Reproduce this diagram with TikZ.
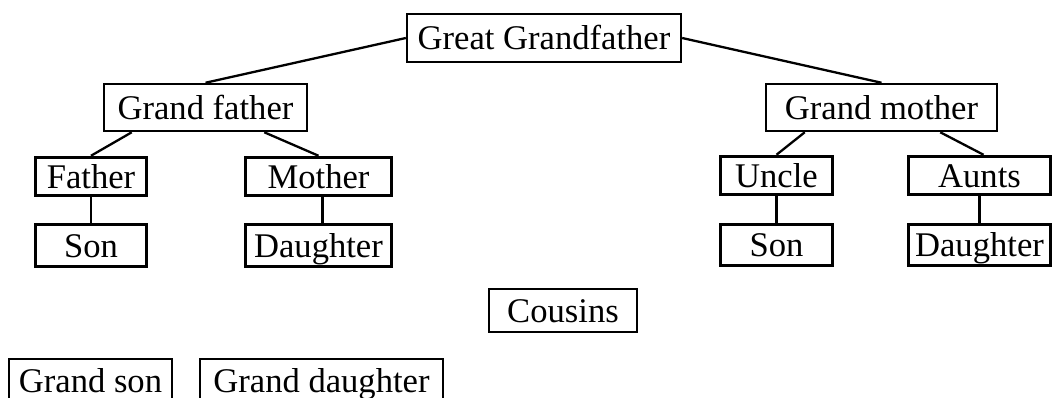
\documentclass[tikz,border=0pt]{standalone}
\usepackage{fontspec}
\setmainfont{Liberation Serif}
\begin{document}
\begin{tikzpicture}[x=1pt,y=-1pt,
  box/.style={draw, line width=#1, inner sep=0pt, text height=23pt, text depth=0pt,
    font=\fontsize{34.6}{40}\selectfont},
  link/.style={line width=2.3pt}]
\useasboundingbox (0,0) rectangle (1053,397);
% level 0
\node[box=2.3pt, minimum width=274pt, minimum height=48pt] (gg) at (544,38) {Great Grandfather};
% level 1
\node[box=2.5pt, minimum width=203pt, minimum height=47pt] (gf) at (205.5,107.5) {Grand father};
\node[box=2.5pt, minimum width=231pt, minimum height=47pt] (gm) at (881.5,107.5) {Grand mother};
% level 2
\node[box=3.5pt, minimum width=111pt, minimum height=38pt] (father) at (91,176.5) {Father};
\node[box=3.5pt, minimum width=146pt, minimum height=38pt] (mother) at (318.5,176.5) {Mother};
\node[box=3.5pt, minimum width=112pt, minimum height=38pt] (uncle) at (776.5,175.5) {Uncle};
\node[box=3.5pt, minimum width=142pt, minimum height=38pt] (aunts) at (979.5,175.5) {Aunts};
% level 3
\node[box=3.5pt, minimum width=111pt, minimum height=42pt] (son1) at (91,245.5) {Son};
\node[box=3.5pt, minimum width=146pt, minimum height=42pt] (dau1) at (318.5,245.5) {Daughter};
\node[box=3.5pt, minimum width=112pt, minimum height=41pt] (son2) at (776.5,245) {Son};
\node[box=3.5pt, minimum width=142pt, minimum height=41pt] (dau2) at (979.5,245) {Daughter};
% loose boxes
\node[box=2.3pt, minimum width=148pt, minimum height=43pt] (cousins) at (563,310.5) {Cousins};
\node[box=2pt, minimum width=163pt, minimum height=44pt] (gson) at (90.5,381) {Grand son};
\node[box=2pt, minimum width=243pt, minimum height=44pt] (gdau) at (321.5,381) {Grand daughter};
% connectors
\draw[link] (gg.west) -- (gf.north);
\draw[link] (gg.east) -- (gm.north);
\draw[link] ([xshift=29pt]gf.south west) -- (father.north);
\draw[link] ([xshift=-44pt]gf.south east) -- (mother.north);
\draw[link] ([xshift=40pt]gm.south west) -- (uncle.north);
\draw[link] ([xshift=-58pt]gm.south east) -- ([xshift=4pt]aunts.north);
\draw[link] (father.south) -- (son1.north);
\draw[link] ([xshift=4pt]mother.south) -- ([xshift=4pt]dau1.north);
\draw[link] (uncle.south) -- (son2.north);
\draw[link] (aunts.south) -- (dau2.north);
\end{tikzpicture}
\end{document}
